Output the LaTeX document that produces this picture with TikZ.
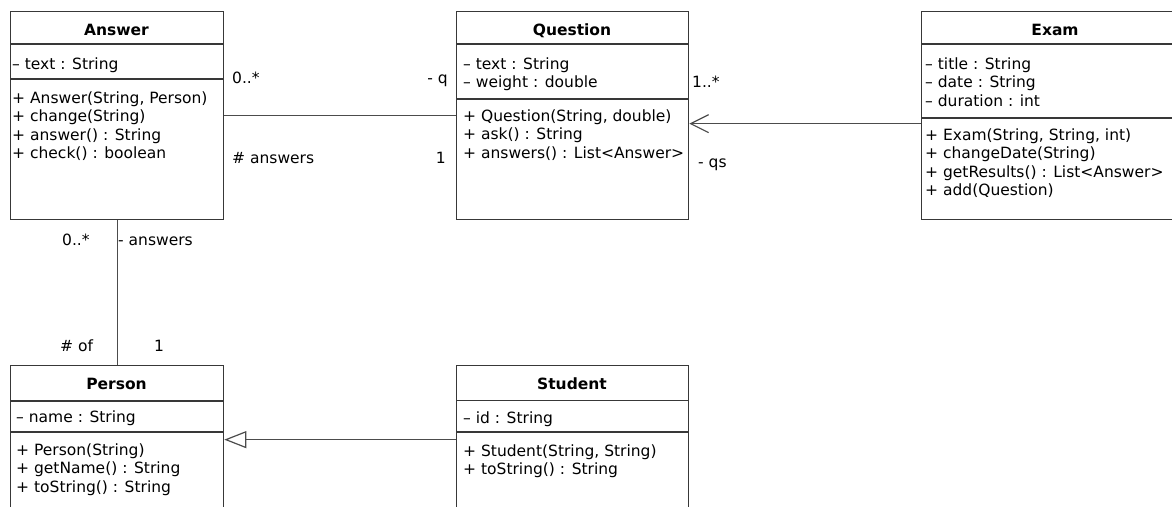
\documentclass[tikz,border=0pt]{standalone}
\usepackage{fontspec}
\setmainfont{DejaVu Sans}
\usetikzlibrary{arrows.meta}
\begin{document}
\begin{tikzpicture}[x=1pt,y=-1pt,
  box/.style={draw=black!78, line width=1.3pt, fill=white, inner sep=0pt, anchor=north west},
  sep/.style={draw=black!78, line width=1.3pt},
  conn/.style={draw=black!70, line width=1.2pt},
  txt/.style={inner sep=0pt, anchor=base west, font=\fontsize{15.5}{18.3}\selectfont},
  ttl/.style={inner sep=0pt, anchor=base, font=\fontsize{15.5}{18.3}\selectfont\bfseries},
  lbl/.style={inner sep=0pt, anchor=base west, font=\fontsize{15.5}{18.3}\selectfont}]
\useasboundingbox (0,0) rectangle (1172,506);
% class boxes
\node[box, minimum width=213pt, minimum height=208pt] (answer) at (10,11) {};
\node[box, minimum width=232pt, minimum height=208pt] (question) at (456,11) {};
\node[box, minimum width=268pt, minimum height=208pt] (exam) at (921,11) {};
\node[box, minimum width=213pt, minimum height=148pt] (person) at (10,365) {};
\node[box, minimum width=232pt, minimum height=148pt] (student) at (456,365) {};
% compartments
\draw[sep] (answer.west |- 0,44) -- (answer.east |- 0,44);
\draw[sep] (answer.west |- 0,79) -- (answer.east |- 0,79);
\draw[sep] (question.west |- 0,44) -- (question.east |- 0,44);
\draw[sep] (question.west |- 0,99) -- (question.east |- 0,99);
\draw[sep] (exam.west |- 0,44) -- (exam.east |- 0,44);
\draw[sep] (exam.west |- 0,118) -- (exam.east |- 0,118);
\draw[sep] (person.west |- 0,401) -- (person.east |- 0,401);
\draw[sep] (person.west |- 0,432) -- (person.east |- 0,432);
\draw[sep] (student.west |- 0,400.5) -- (student.east |- 0,400.5);
\draw[sep] (student.west |- 0,432) -- (student.east |- 0,432);
% titles
\node[ttl] (answerT) at (116.5,35) {Answer};
\node[ttl] (questionT) at (572,35) {Question};
\node[ttl] (examT) at (1055,35) {Exam};
\node[ttl] (personT) at (116.5,389) {Person};
\node[ttl] (studentT) at (572,389) {Student};
% Answer
\node[txt] (a1) at (12,69) {– text : String};
\node[txt] (a2) at (12,103) {+ Answer(String, Person)};
\node[txt] (a3) at (12,121) {+ change(String)};
\node[txt] (a4) at (12,140) {+ answer() : String};
\node[txt] (a5) at (12,158) {+ check() : boolean};
% Question
\node[txt] (q1) at (463,69) {– text : String};
\node[txt] (q2) at (463,87) {– weight : double};
\node[txt] (q3) at (463,121) {+ Question(String, double)};
\node[txt] (q4) at (463,139) {+ ask() : String};
\node[txt] (q5) at (463,158) {+ answers() : List<Answer>};
% Exam
\node[txt] (e1) at (925,69) {– title : String};
\node[txt] (e2) at (925,87) {– date : String};
\node[txt] (e3) at (925,106) {– duration : int};
\node[txt] (e4) at (925,140) {+ Exam(String, String, int)};
\node[txt] (e5) at (925,158) {+ changeDate(String)};
\node[txt] (e6) at (925,177) {+ getResults() : List<Answer>};
\node[txt] (e7) at (925,195) {+ add(Question)};
% Person
\node[txt] (p1) at (16,422) {– name : String};
\node[txt] (p2) at (16,455) {+ Person(String)};
\node[txt] (p3) at (16,473) {+ getName() : String};
\node[txt] (p4) at (16,492) {+ toString() : String};
% Student
\node[txt] (s1) at (463,423) {– id : String};
\node[txt] (s2) at (463,456) {+ Student(String, String)};
\node[txt] (s3) at (463,474) {+ toString() : String};
% connectors
\draw[conn] (answer) -- (question);
\draw[conn, -{Straight Barb[length=18pt, width=18pt, line width=1.2pt]}] ([yshift=-8pt]exam.west) -- ([yshift=-8pt]question.east);
\draw[conn] (answer.south) -- (person.north);
\draw[conn, -{Triangle[open, length=22pt, width=17pt, fill=white, line width=1.2pt]}] (student) -- (person);
% association labels
\node[lbl] (m1) at (232,83) {0..*};
\node[lbl, anchor=base east] (r1) at (448,83) {- q};
\node[lbl] (r2) at (232,163) {\# answers};
\node[lbl, anchor=base east] (m2) at (446,163) {1};
\node[lbl] (m3) at (692,87) {1..*};
\node[lbl] (r3) at (698,167) {- qs};
\node[lbl] (m4) at (62,245) {0..*};
\node[lbl] (r4) at (118,245) {- answers};
\node[lbl] (r5) at (60,351) {\# of};
\node[lbl] (m5) at (154,351) {1};
\end{tikzpicture}
\end{document}
